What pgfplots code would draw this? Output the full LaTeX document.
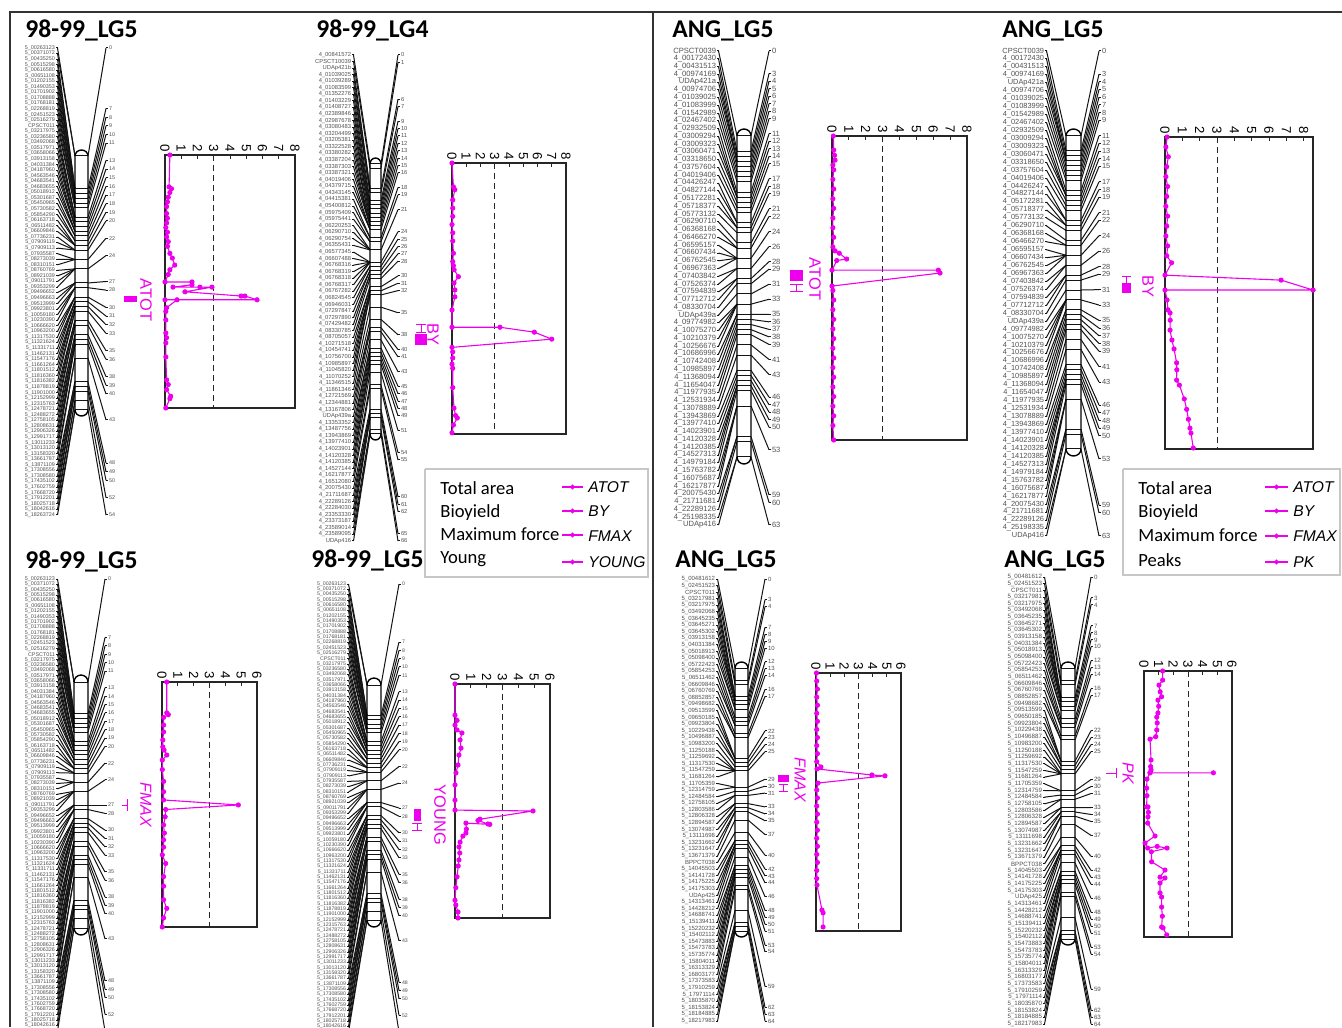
\documentclass[border=0pt]{standalone}
\usepackage{fontspec}
\setmainfont{Liberation Sans}
\newfontfamily\carlito{Carlito}
\usepackage{pgfplots}
\usepackage{pgfplotstable}
\pgfplotsset{compat=1.18}
\definecolor{mag}{RGB}{238,0,238}

\catcode`\_=12
\pgfplotstableread{
name cM
5_00263123 0
5_00371072 0
5_00435250 7
5_00515298 7
5_00616580 8
5_00651108 8
5_01202155 8
5_01490353 9
5_01701902 9
5_01708888 9
5_01768181 10
5_02268819 10
5_02451523 10
5_02516279 11
CPSCT011 11
5_03217975 13
5_03236580 13
5_03492068 13
5_03517971 14
5_03658066 14
5_03913158 14
5_04031384 15
5_04187960 15
5_04563546 15
5_04683541 16
5_04683655 16
5_05018912 16
5_05301687 17
5_05450965 17
5_05730582 18
5_05854290 18
5_06163718 19
5_06511482 19
5_06609846 19
5_07736231 20
5_07909119 20
5_07909113 20
5_07935587 22
5_08273039 22
5_08310151 22
5_08760769 24
5_08921039 24
5_09011791 24
5_09353299 24
5_09496652 27
5_09496663 27
5_09513999 27
5_09923801 28
5_10059180 28
5_10230390 28
5_10666620 30
5_10963200 30
5_11317530 30
5_11321624 31
5_11331711 31
5_11462131 31
5_11547176 32
5_11661264 32
5_11801512 32
5_11816360 33
5_11816382 33
5_11878819 35
5_11901000 35
5_12152999 35
5_12315763 36
5_12478721 36
5_12488272 38
5_12758105 38
5_12808631 39
5_12906326 39
5_12991717 40
5_13011233 40
5_13013120 40
5_13158320 43
5_13661787 43
5_13871109 48
5_17308556 48
5_17308580 49
5_17435102 49
5_17602759 50
5_17668720 50
5_17912201 52
5_18025718 52
5_18042616 54
5_18263724 54
}\tA
\pgfplotstableread{
name cM
4_00841572 0
CPSCT10039 1
UDAp421b 6
4_01039025 6
4_01039289 7
4_01083599 7
4_01352276 9
4_01403229 10
4_01408727 11
4_02389846 11
4_02987678 12
4_03080483 12
4_03204499 13
4_03205381 14
4_03322528 14
4_03380282 15
4_03387204 15
4_03387303 15
4_03387321 15
4_04019406 16
4_04379715 16
4_04343145 16
4_04415381 18
4_05400812 18
4_05975409 19
4_05975441 19
4_06220253 21
4_06290710 21
4_06290754 21
4_06355431 21
4_06577345 24
4_06607488 24
4_06768316 24
4_06768319 24
4_06768318 24
4_06768317 24
4_06767282 25
4_06824545 25
4_06946031 26
4_07297847 26
4_07297890 27
4_07429482 27
4_08330785 28
4_08705057 30
4_10271518 30
4_10454741 31
4_10756700 31
4_10985897 31
4_11045820 32
4_11070252 32
4_11346515 35
4_11861346 38
4_12721569 40
4_12344881 40
4_13167806 41
UDAp439a 43
4_13353352 45
4_13487756 45
4_13943869 46
4_13977410 47
4_14023901 48
4_14120328 49
4_14120385 49
4_14527144 51
4_16217877 54
4_16512080 55
4_20075430 60
4_21711687 61
4_22289126 61
4_22284030 62
4_23353330 62
4_23373187 62
4_23589014 65
4_23589095 66
UDAp416 66
}\tB
\pgfplotstableread{
name cM
CPSCT0039 0
4_00172430 3
4_00431513 4
4_00974169 5
UDAp421a 5
4_00974706 5
4_01039025 6
4_01083999 7
4_01542989 8
4_02467402 9
4_02932509 11
4_03009294 12
4_03009323 12
4_03060471 12
4_03318650 13
4_03757604 14
4_04019406 15
4_04426247 17
4_04827144 17
4_05172281 18
4_05718377 18
4_05773132 19
4_06290710 21
4_06368168 22
4_06466270 22
4_06595157 24
4_06607434 24
4_06762545 24
4_06967363 24
4_07403842 26
4_07526374 26
4_07594839 28
4_07712712 28
4_08330704 29
UDAp439a 31
4_09774982 33
4_10075270 33
4_10210379 33
4_10256676 33
4_10686996 35
4_10742408 35
4_10985897 36
4_11368094 37
4_11654047 38
4_11977935 39
4_12531934 41
4_13078889 43
4_13943869 46
4_13977410 47
4_14023901 48
4_14120328 49
4_14120385 49
4_14527313 49
4_14979184 50
4_15763782 53
4_16075687 53
4_16217877 53
4_20075430 59
4_21711681 59
4_22289126 60
4_25198335 63
UDAp416 63
}\tE
\pgfplotstableread{
name cM
5_00481612 0
5_02451523 3
CPSCT011 4
5_03217981 7
5_03217975 7
5_03492068 7
5_03645235 8
5_03645271 8
5_03645302 8
5_03913158 8
5_04031384 9
5_05018913 10
5_05098400 10
5_05722423 12
5_05854253 13
5_06511462 14
5_06609846 14
5_06760769 16
5_08852857 17
5_09498682 17
5_09513599 22
5_09650185 22
5_09923804 22
5_10229438 23
5_10496887 23
5_10983200 24
5_11250188 25
5_11259692 25
5_11317530 25
5_11547259 25
5_11681264 25
5_11705359 29
5_12314759 29
5_12484584 30
5_12758105 31
5_12803586 31
5_12806328 33
5_12894587 33
5_13074987 34
5_13111698 34
5_13231662 35
5_13231647 35
5_13671379 37
BPPCT038 40
5_14045503 42
5_14141728 42
5_14175225 43
5_14175303 43
UDAp425 43
5_14313461 44
5_14428212 46
5_14688741 48
5_15139411 48
5_15220232 49
5_15402112 49
5_15473883 50
5_15473783 50
5_15735774 50
5_15804011 51
5_16313329 53
5_16803177 54
5_17373583 59
5_17910259 62
5_17971114 62
5_18035870 63
5_18153824 63
5_18184885 64
5_18217983 64
}\tG
\catcode`\_=8

\pgfplotstableread{
cM k
0 0
7 0
8 0
9 0
10 0
11 0
13 0
14 0
15 0
16 0
17 0
18 0
19 0
20 0
22 0
24 0
27 0
28 0
30 0
31 0
32 0
33 0
35 0
36 0
38 0
39 0
40 0
43 0
48 0
49 0
50 0
52 0
54 0
}\uA
\pgfplotstableread{
cM k
0 0
1 0
6 0
7 0
9 0
10 0
11 0
12 0
13 0
14 0
15 0
16 0
18 0
19 0
21 0
24 0
25 0
26 0
27 0
28 0
30 0
31 0
32 0
35 0
38 0
40 0
41 0
43 0
45 0
46 0
47 0
48 0
49 0
51 0
54 0
55 0
60 0
61 0
62 0
65 0
66 0
}\uB
\pgfplotstableread{
cM k
0 0
3 0
4 0
5 0
6 0
7 0
8 0
9 0
11 0
12 0
13 0
14 0
15 0
17 0
18 0
19 0
21 0
22 0
24 0
26 0
28 0
29 0
31 0
33 0
35 0
36 0
37 0
38 0
39 0
41 0
43 0
46 0
47 0
48 0
49 0
50 0
53 0
59 0
60 0
63 0
}\uE
\pgfplotstableread{
cM k
0 0
3 0
4 0
7 0
8 0
9 0
10 0
12 0
13 0
14 0
16 0
17 0
22 0
23 0
24 0
25 0
29 0
30 0
31 0
33 0
34 0
35 0
37 0
40 0
42 0
43 0
44 0
46 0
48 0
49 0
50 0
51 0
53 0
54 0
59 0
62 0
63 0
64 0
}\uG
\pgfplotstableread{
dx e dy
-1 0 0
-0.92 0 -0.38
-0.71 0 -0.71
-0.38 0 -0.92
0 0 -1
0.38 0 -0.92
0.71 0 -0.71
0.92 0 -0.38
1 0 0
1 1 0
0.92 1 0.38
0.71 1 0.71
0.38 1 0.92
0 1 1
-0.38 1 0.92
-0.71 1 0.71
-0.92 1 0.38
-1 1 0
-1 0 0
}\capshape

\pgfplotstablecreatecol[expr={\pgfplotstablerow}]{i}{\tA}
\pgfplotstablecreatecol[expr={\pgfplotstablerow}]{i}{\tB}
\pgfplotstablecreatecol[expr={\pgfplotstablerow}]{i}{\tE}
\pgfplotstablecreatecol[expr={\pgfplotstablerow}]{i}{\tG}

\tikzset{
  ttl/.style={anchor=base west, font=\carlito\bfseries\fontsize{12.8}{14}\selectfont, inner sep=0pt},
  qtl/.style={text=mag, rotate=-90, font=\fontsize{8.2}{9}\selectfont, inner sep=0pt},
  qtli/.style={text=mag, rotate=-90, font=\itshape\fontsize{8}{9}\selectfont, inner sep=0pt},
  leg/.style={anchor=base west, font=\carlito\fontsize{9.3}{11}\selectfont, inner sep=0pt},
  legi/.style={anchor=base west, font=\itshape\fontsize{7.8}{9}\selectfont, inner sep=0pt},
}
\pgfplotsset{
  globalax/.style={at={(0,0)}, anchor=south west, scale only axis, width=671pt, height=513.5pt,
    xmin=0, xmax=1342, ymin=0, ymax=1027, y dir=reverse, axis lines=none, clip=true},
  lnst/.style={black!92, line width=0.5pt, mark=none},
  lodax/.style={anchor=south west, scale only axis, y dir=reverse, ytick=\empty,
    xtick pos=right, xticklabel pos=right, xtick={0,1,...,8}, xmin=0, ymin=0,
    axis line style={line width=0.55pt, black!85}, major tick length=2pt,
    tick style={black!85, line width=0.4pt},
    xticklabel style={rotate=-90, anchor=east, font=\fontsize{6.6}{7}\selectfont, inner sep=1.2pt},
    clip=false, /pgf/number format/assume math mode=true},
  thr/.style={black!85, densely dashed, line width=0.5pt, mark=none},
  prof/.style={mag, line width=0.55pt, mark=*, mark size=1pt, mark options={solid, fill=mag, draw=mag}},
  qbar/.style={fill=mag, draw=none, mark=none},
  qci/.style={mag, line width=0.5pt, mark=none},
  qsmp/.style={mag, line width=0.6pt, mark=*, mark size=0.9pt, mark indices={2}, mark options={fill=mag}},
}

\newcommand{\chromo}[2]{%
\begin{axis}[globalax]
\addplot[draw=none, mark=none, point meta=explicit symbolic, nodes near coords={\pgfplotspointmeta},
  nodes near coords style={anchor=east, inner sep=0.3pt, font=\fontsize{\Qfs}{\Qfs}\selectfont, text=black!68}]
  table[x expr=\QxL, y expr={\QyT+\thisrow{i}*(\QyB-\QyT)/\Qnm}, meta=name] {#1};
\addplot[lnst, quiver={u=1.5, v=0}] table[x expr=\QxL, y expr={\QyT+\thisrow{i}*(\QyB-\QyT)/\Qnm}] {#1};
\addplot[lnst, quiver={u={\QxCL-\QxL-1.5}, v={\QycT+\thisrow{cM}*(\QycB-\QycT)/\Qcmax-\QyT-\thisrow{i}*(\QyB-\QyT)/\Qnm}}]
  table[x expr=\QxL+1.5, y expr={\QyT+\thisrow{i}*(\QyB-\QyT)/\Qnm}] {#1};
\addplot[lnst, quiver={u={\QxCR-\QxCL}, v=0}] table[x expr=\QxCL, y expr={\QycT+\thisrow{cM}*(\QycB-\QycT)/\Qcmax}] {#2};
\addplot[black, line width=0.7pt, mark=none] table[x expr={(\QxCL+\QxCR)/2+\thisrow{dx}*(\QxCR-\QxCL)/2}, y expr={\QycT+\thisrow{e}*(\QycB-\QycT)+\thisrow{dy}*\QcapH}] {\capshape};
\addplot[lnst, quiver={u={\QxN-2-\QxCR}, v={(\thisrow{cM}/\Qcmax)*((\QyB-\QyT)-(\QycB-\QycT))+\QyT-\QycT}}]
  table[x expr=\QxCR, y expr={\QycT+\thisrow{cM}*(\QycB-\QycT)/\Qcmax}] {#2};
\addplot[lnst, quiver={u=2, v=0}] table[x expr=\QxN-2, y expr={\QyT+\thisrow{cM}*(\QyB-\QyT)/\Qcmax}] {#2};
\addplot[draw=none, mark=none, point meta=explicit symbolic, nodes near coords={\pgfplotspointmeta},
  nodes near coords style={anchor=west, inner sep=0.3pt, font=\fontsize{\Qfs}{\Qfs}\selectfont, text=black!68}]
  table[x expr=\QxN, y expr={\QyT+\thisrow{cM}*(\QyB-\QyT)/\Qcmax}, meta=cM] {#2};
\end{axis}}

\begin{document}
\begin{tikzpicture}
\useasboundingbox (0,0) rectangle (671pt,513.5pt);
\fill[white] (0,0) rectangle (671pt,513.5pt);

% Panel A
\def\QxL{56}\def\QyT{48}\def\QyB{515}\def\Qnm{84}\def\QxCL{75}\def\QxCR{88}\def\QycT{156}\def\QycB{410}\def\QcapH{6}\def\QxN{108}\def\Qcmax{54}\def\Qfs{2.7}
\chromo{\tA}{\uA}
% Panel B
\def\QxL{352}\def\QyT{55}\def\QyB{541}\def\Qnm{74}\def\QxCL{370}\def\QxCR{381}\def\QycT{164}\def\QycB{434}\def\QcapH{6}\def\QxN{400}\def\Qcmax{66}\def\Qfs{2.9}
\chromo{\tB}{\uB}
% Panel C
\def\QxL{56}\def\QyT{579}\def\QyB{1031}\def\Qnm{84}\def\QxCL{74}\def\QxCR{88}\def\QycT{682}\def\QycB{928}\def\QcapH{7}\def\QxN{107}\def\Qcmax{54}\def\Qfs{2.7}
\chromo{\tA}{\uA}
% Panel D
\def\QxL{347}\def\QyT{584}\def\QyB{1032}\def\Qnm{84}\def\QxCL{367}\def\QxCR{381}\def\QycT{685}\def\QycB{920}\def\QcapH{7}\def\QxN{401}\def\Qcmax{54}\def\Qfs{2.6}
\chromo{\tA}{\uA}
% Panel E
\def\QxL{717}\def\QyT{51}\def\QyB{525}\def\Qnm{61}\def\QxCL{737}\def\QxCR{751}\def\QycT{136}\def\QycB{457}\def\QcapH{7}\def\QxN{771}\def\Qcmax{63}\def\Qfs{3.8}
\chromo{\tE}{\uE}
% Panel F
\def\QxL{1045}\def\QyT{51}\def\QyB{536}\def\Qnm{61}\def\QxCL{1066}\def\QxCR{1081}\def\QycT{136}\def\QycB{449}\def\QcapH{7}\def\QxN{1101}\def\Qcmax{63}\def\Qfs{3.7}
\chromo{\tE}{\uE}
% Panel G
\def\QxL{716}\def\QyT{579}\def\QyB{1021}\def\Qnm{67}\def\QxCL{735}\def\QxCR{748}\def\QycT{668}\def\QycB{931}\def\QcapH{6}\def\QxN{767}\def\Qcmax{64}\def\Qfs{3.0}
\chromo{\tG}{\uG}
% Panel H
\def\QxL{1043}\def\QyT{577}\def\QyB{1024}\def\Qnm{67}\def\QxCL{1061}\def\QxCR{1075}\def\QycT{668}\def\QycB{939}\def\QcapH{6}\def\QxN{1093}\def\Qcmax{64}\def\Qfs{3.1}
\chromo{\tG}{\uG}

% LOD profiles
\begin{axis}[lodax, at={(82.5pt,309.5pt)}, width=65pt, height=126.5pt, xmax=8, ymax=54]
\addplot[thr] coordinates {(3,0) (3,54)};
\addplot[prof] coordinates {(0.3,0) (0.25,6.8) (0.4,7.2) (0.3,8) (0.2,9) (0.15,10) (0.1,11) (0.1,12.5) (0.15,13.5) (0.1,14.5) (0.05,15.5) (0.15,16.5) (0.1,17.5) (0.2,18.5) (0.15,19.5) (0.3,21) (0.45,22) (0.6,23.5) (0.3,24.5) (0.2,25.5) (0,27.1) (1.66,27.1) (1.66,27.7) (0.49,28.2) (2.15,28.2) (2.89,28.2) (1.23,29.2) (4.68,30.1) (4.92,30.1) (5.66,30.9) (0,30.9) (0.74,30.9) (0.1,32.6) (0.05,33.4) (0.05,35.2) (0.05,38) (0.1,39) (0.05,40.1) (0.05,43.1) (0.1,48) (0.2,49) (0.1,50.1) (0.35,51.5) (0.3,52) (0.05,54)};
\end{axis}
\begin{axis}[lodax, at={(226pt,296.5pt)}, width=57pt, height=135.5pt, xmax=8, ymax=66]
\addplot[thr] coordinates {(3,0) (3,66)};
\addplot[prof] coordinates {(0,0) (0.1,5.8) (0.2,6.5) (0.05,9) (0.05,11) (0.05,13) (0,15) (0.05,17) (0.05,19) (0.1,22) (0.05,24) (0.1,25) (0.15,26) (0.45,27.7) (0.14,29.2) (0.2,30.9) (0.2,32.6) (0,35.8) (0,40) (3.37,40) (5.78,41.2) (7.0,42.9) (0,44.9) (0.05,46) (0.05,47.5) (0,49) (0.05,50) (0.05,54.7) (0.14,59.7) (0.25,61.5) (0.37,62.1) (0.1,63.8) (0,65.7)};
\end{axis}
\begin{axis}[lodax, at={(81pt,50pt)}, width=47.5pt, height=122.5pt, xmax=6, ymax=54]
\addplot[thr] coordinates {(3,0) (3,54)};
\addplot[prof] coordinates {(0.3,0) (0.3,6.8) (0.4,7.2) (0.1,7.8) (0.1,9.5) (0.1,11) (0.05,12.8) (0.05,14.3) (0.13,15) (0.3,16.1) (0.02,17.2) (0.02,19.3) (0.1,21.9) (0.1,24.2) (0.1,26) (4.82,27.1) (0.23,28.1) (0.2,29.7) (0.1,31.5) (0.15,33.3) (0.1,34.8) (0.1,36.4) (0.02,38.1) (0.23,40) (0.1,42.9) (0.1,45) (0.1,48) (0.3,49.9) (0.1,52) (0.02,54)};
\end{axis}
\begin{axis}[lodax, at={(227.5pt,54.5pt)}, width=47.5pt, height=117pt, xmax=6, ymax=54]
\addplot[thr] coordinates {(3,0) (3,54)};
\addplot[prof] coordinates {(0,0) (0,7.2) (0.13,8.4) (0,9.5) (0.13,10.6) (0.44,11.3) (0.32,12.9) (0.38,14.8) (0.25,16.4) (0.19,18.7) (0.06,20.5) (0,23.3) (0,26.8) (0,29.1) (4.93,29.3) (1.58,31.2) (1.45,31.5) (2.08,32.3) (2.2,32.4) (0.69,32.1) (0.72,33.5) (0.69,34.4) (0.5,35.1) (0.32,36.5) (0.25,37.6) (0.3,39) (0.25,40.6) (0.2,42) (0.13,44.5) (0.05,47) (0,49.9) (0.05,51) (0.19,52.6) (0.19,54)};
\end{axis}
\begin{axis}[lodax, at={(416pt,293.5pt)}, width=67.5pt, height=152pt, xmax=8, ymax=63]
\addplot[thr] coordinates {(3,0) (3,63)};
\addplot[prof] coordinates {(0.08,0) (0.1,2.9) (0.15,4) (0.18,5) (0.05,6) (0.1,7) (0.05,9) (0.1,11) (0.05,13) (0.1,15) (0.05,17) (0.05,19) (0.1,21) (0.05,23) (0.18,23.8) (0.43,24.3) (0.87,25.5) (0.28,25.8) (0,27.8) (6.3,27.8) (6.4,28.4) (0,31.1) (0.05,32) (0.1,34) (0.05,36) (0.1,38) (0.05,40) (0.1,42) (0.05,44) (0.1,46) (0.05,48) (0.1,50) (0.05,52) (0.1,54) (0.05,56) (0.1,58) (0.05,60) (0.1,63)};
\end{axis}
\begin{axis}[lodax, at={(582.5pt,289pt)}, width=74pt, height=156pt, xmax=8.54, ymax=63]
\addplot[thr] coordinates {(3,0) (3,63)};
\addplot[prof] coordinates {(0.12,0) (0.05,2) (0.19,4) (0.1,6) (0.05,8) (0.15,10) (0.1,12) (0.05,14) (0.15,16) (0.1,18) (0.05,20) (0.15,22) (0.1,24) (0.38,25.4) (0,27.9) (6.7,28.9) (8.54,30.9) (0,30.9) (0.12,32.9) (0.17,34.9) (0.29,35.5) (0.3,37) (0.29,39) (0.4,41) (0.52,42.8) (0.67,45.6) (0.68,47) (0.67,49.1) (0.83,50.1) (1.11,52.9) (1.25,55) (1.35,57) (1.44,58.8) (1.5,59.8) (1.63,62.8)};
\end{axis}
\begin{axis}[lodax, at={(408pt,48pt)}, width=42.5pt, height=129pt, xmax=6, ymax=64]
\addplot[thr] coordinates {(3,0) (3,64)};
\addplot[prof] coordinates {(0.03,0) (0.05,2) (0.1,4) (0.05,6) (0.1,8) (0.05,10) (0.1,12) (0.05,14) (0.1,16) (0.05,18) (0.1,20) (0.05,22) (0.35,23.3) (0.07,23.8) (3.95,25.3) (4.87,25.5) (0.14,27.3) (0.05,29) (0.1,31) (0.05,33) (0.1,35) (0.05,37) (0.1,39) (0.05,41) (0.1,43) (0.05,45) (0.1,47) (0.05,49) (0.05,51) (0.07,52.6) (0.42,58.8) (0.5,59.5) (0.5,63)};
\end{axis}
\begin{axis}[lodax, at={(572pt,45pt)}, width=44pt, height=133pt, xmax=6, ymax=64]
\addplot[thr] coordinates {(3,0) (3,64)};
\addplot[prof] coordinates {(1.27,0) (1.27,2.2) (1.02,3.4) (1.1,5) (1.2,6.2) (0.95,7) (1.0,8.5) (0.95,10.1) (0.87,11.1) (0.9,12.5) (0.87,14.2) (0.8,15.8) (0.41,16.4) (0.48,21.4) (0.45,23) (0.48,23.8) (0.41,24.5) (4.73,24.5) (0.41,24.5) (0.2,26) (0.18,28.2) (0.2,30) (0.18,32.7) (0.27,32.7) (0.3,34) (0.27,35.1) (0.25,36.6) (0.75,39.7) (0.07,41.4) (0.25,42.6) (0.9,42.2) (1.57,42.6) (0.5,43.5) (0.52,45.9) (1.43,47.9) (1.09,49.6) (1.43,49.8) (1.09,51) (1.09,53.4) (1.2,54.4) (1.2,56.8) (1.25,59) (1.2,61.6) (1.3,61.8) (1.55,63.5)};
\end{axis}

% overlay: frame, titles, QTL labels, legends
\begin{axis}[globalax, clip=false]
\addplot[black!80, line width=1pt, mark=none] coordinates {(10,1027) (10,12) (1342,12)};
\addplot[black!80, line width=1pt, mark=none] coordinates {(653,12) (653,1027)};
\node[ttl] at (axis cs:25,38) {98-99\_LG5};
\node[ttl] at (axis cs:316,38) {98-99\_LG4};
\node[ttl] at (axis cs:25,568) {98-99\_LG5};
\node[ttl] at (axis cs:311,567) {98-99\_LG5};
\node[ttl] at (axis cs:672,38) {ANG\_LG5};
\node[ttl] at (axis cs:1002,38) {ANG\_LG5};
\node[ttl] at (axis cs:675,567) {ANG\_LG5};
\node[ttl] at (axis cs:1004,567) {ANG\_LG5};
% QTL labels
\node[qtl] at (axis cs:146,300) {ATOT};
\addplot[qbar] coordinates {(124,296) (137,296) (137,302) (124,302)};
\node[qtl] at (axis cs:433,334) {BY};
\addplot[qbar] coordinates {(415,334) (427,334) (427,345) (415,345)};
\addplot[qci] coordinates {(416,324) (426,324)};
\addplot[qci] coordinates {(416,332) (426,332)};
\addplot[qci] coordinates {(421,324) (421,332)};
\node[qtli] at (axis cs:146,805) {FMAX};
\addplot[qci] coordinates {(122,805) (127,805)};
\addplot[qci] coordinates {(127,799) (127,811)};
\node[qtl] at (axis cs:440,815) {YOUNG};
\addplot[qbar] coordinates {(414,809) (421,809) (421,821) (414,821)};
\addplot[qci] coordinates {(412,823) (422,823)};
\addplot[qci] coordinates {(412,830) (422,830)};
\addplot[qci] coordinates {(417,823) (417,830)};
\node[qtl] at (axis cs:815,279) {ATOT};
\addplot[qbar] coordinates {(790,270) (803,270) (803,281) (790,281)};
\addplot[qci] coordinates {(790,284) (803,284)};
\addplot[qci] coordinates {(790,291) (803,291)};
\addplot[qci] coordinates {(796.5,284) (796.5,291)};
\node[qtl] at (axis cs:1148,286) {BY};
\addplot[qbar] coordinates {(1122,284) (1131,284) (1131,293) (1122,293)};
\addplot[qci] coordinates {(1122,276) (1131,276)};
\addplot[qci] coordinates {(1122,283) (1131,283)};
\addplot[qci] coordinates {(1126.5,276) (1126.5,283)};
\node[qtli] at (axis cs:800,780) {FMAX};
\addplot[qbar] coordinates {(778,775) (789,775) (789,782) (778,782)};
\addplot[qci] coordinates {(779,784) (788,784)};
\addplot[qci] coordinates {(779,791) (788,791)};
\addplot[qci] coordinates {(783.5,784) (783.5,791)};
\node[qtli] at (axis cs:1128,773) {PK};
\addplot[qci] coordinates {(1106,773) (1116,773)};
\addplot[qci] coordinates {(1116,768) (1116,778)};
% legend left
\addplot[black!22, line width=0.7pt, mark=none] coordinates {(425,469) (648,469) (648,577) (425,577) (425,469)};
\node[leg] at (axis cs:440,494) {Total area};
\node[leg] at (axis cs:440,517) {Bioyield};
\node[leg] at (axis cs:440,540) {Maximum force};
\node[leg] at (axis cs:440,563) {Young};
\addplot[qsmp] coordinates {(562,487) (572.5,487) (583,487)};
\addplot[qsmp] coordinates {(562,511) (572.5,511) (583,511)};
\addplot[qsmp] coordinates {(562,535) (572.5,535) (583,535)};
\addplot[qsmp] coordinates {(562,562) (572.5,562) (583,562)};
\node[legi] at (axis cs:588,492) {ATOT};
\node[legi] at (axis cs:588,516) {BY};
\node[legi] at (axis cs:588,541) {FMAX};
\node[legi] at (axis cs:588,567) {YOUNG};
% legend right
\addplot[black!22, line width=0.7pt, mark=none] coordinates {(1123,469) (1340,469) (1340,575) (1123,575) (1123,469)};
\node[leg] at (axis cs:1138,494) {Total area};
\node[leg] at (axis cs:1138,517) {Bioyield};
\node[leg] at (axis cs:1138,541) {Maximum force};
\node[leg] at (axis cs:1138,566) {Peaks};
\addplot[qsmp] coordinates {(1265,487) (1276.5,487) (1288,487)};
\addplot[qsmp] coordinates {(1265,511) (1276.5,511) (1288,511)};
\addplot[qsmp] coordinates {(1265,536) (1276.5,536) (1288,536)};
\addplot[qsmp] coordinates {(1265,562) (1276.5,562) (1288,562)};
\node[legi] at (axis cs:1293,492) {ATOT};
\node[legi] at (axis cs:1293,516) {BY};
\node[legi] at (axis cs:1293,541) {FMAX};
\node[legi] at (axis cs:1293,567) {PK};
\end{axis}
\end{tikzpicture}
\end{document}
